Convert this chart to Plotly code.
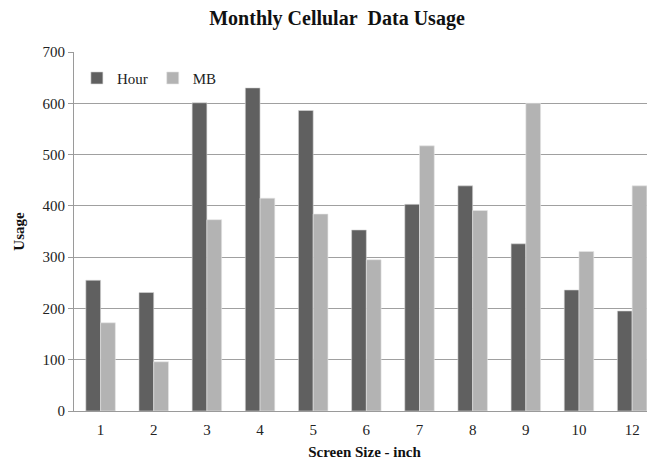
import plotly.graph_objects as go

categories = ["1", "2", "3", "4", "5", "6", "7", "8", "9", "10", "12"]
hour = [255, 231, 601, 630, 586, 353, 403, 439, 326, 236, 195]
mb = [172, 96, 373, 415, 384, 295, 517, 391, 600, 311, 439]
y_ticks = [0, 100, 200, 300, 400, 500, 600, 700]

SERIF = "Times New Roman, DejaVu Serif, serif"

fig = go.Figure()
fig.add_trace(go.Bar(name="Hour", x=categories, y=hour,
                     marker=dict(color="#606060", line=dict(color="#d8d8d8", width=0.6))))
fig.add_trace(go.Bar(name="MB", x=categories, y=mb,
                     marker=dict(color="#b3b3b3", line=dict(color="#e6e6e6", width=0.6))))

fig.update_layout(
    width=647, height=455,
    margin=dict(l=65.5, r=0, t=44, b=52),
    paper_bgcolor="white", plot_bgcolor="white",
    barmode="group", bargap=0.445, bargroupgap=0,
    font=dict(family=SERIF, size=14, color="#222"),
    title=dict(text="<b>Monthly Cellular&nbsp; Data Usage</b>", x=0.5085, xanchor="center",
               y=0.978, yanchor="middle", font=dict(family=SERIF, size=20, color="#111")),
    legend=dict(orientation="h", x=0.005, y=0.927, xanchor="left", yanchor="middle",
                bgcolor="rgba(0,0,0,0)", itemwidth=30, traceorder="normal",
                font=dict(family=SERIF, size=15, color="#222")),
    showlegend=True,
)
fig.update_xaxes(
    type="category", range=[-0.5, 10.43],
    showline=True, linecolor="#9a9a9a", linewidth=1,
    showgrid=False, ticks="", ticklabelstandoff=5,
    tickfont=dict(family=SERIF, size=15, color="#222"),
    title=dict(text="<b>Screen Size - inch</b>", font=dict(family=SERIF, size=15, color="#111"), standoff=9),
)
fig.update_yaxes(
    range=[0, 700], tickvals=y_ticks,
    showline=True, linecolor="#9a9a9a", linewidth=1,
    showgrid=True, gridcolor="#a0a0a0", gridwidth=1,
    ticks="outside", ticklen=5, tickcolor="#9a9a9a",
    tickfont=dict(family=SERIF, size=15, color="#222"),
    zeroline=False,
    title=dict(text="<b>Usage</b>", font=dict(family=SERIF, size=15, color="#111"), standoff=14),
)

fig.write_html("out.html")
